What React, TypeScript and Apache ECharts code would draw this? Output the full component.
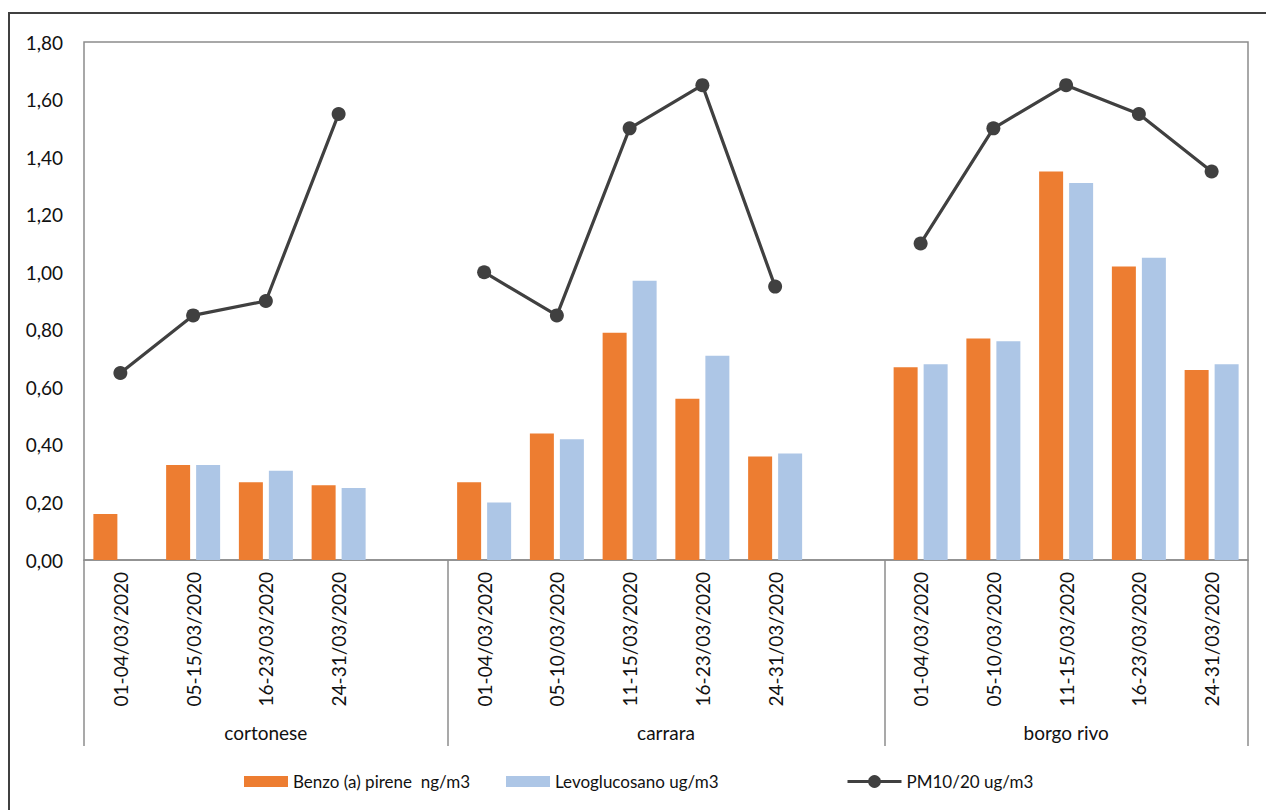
import React, { useEffect, useRef } from "react";
import * as echarts from "echarts";

const categories = [
  "01-04/03/2020", "05-15/03/2020", "16-23/03/2020", "24-31/03/2020", "",
  "01-04/03/2020", "05-10/03/2020", "11-15/03/2020", "16-23/03/2020", "24-31/03/2020", "",
  "01-04/03/2020", "05-10/03/2020", "11-15/03/2020", "16-23/03/2020", "24-31/03/2020",
];
const groups = ["cortonese", "carrara", "borgo rivo"];
const groupCenters = [2.5, 8, 13.5];
const groupBounds = [0, 5, 11, 16];

const benzo = [0.16, 0.33, 0.27, 0.26, null, 0.27, 0.44, 0.79, 0.56, 0.36, null, 0.67, 0.77, 1.35, 1.02, 0.66];
const levo = [null, 0.33, 0.31, 0.25, null, 0.2, 0.42, 0.97, 0.71, 0.37, null, 0.68, 0.76, 1.31, 1.05, 0.68];
const pm = [0.65, 0.85, 0.9, 1.55, null, 1.0, 0.85, 1.5, 1.65, 0.95, null, 1.1, 1.5, 1.65, 1.55, 1.35];

const seriesNames = ["Benzo (a) pirene  ng/m3", "Levoglucosano ug/m3", "PM10/20 ug/m3"];

const FONT = "Lato";
const FS = 19;
const TXT = "#111111";
const AX = "#8c8c8c";

export default function App() {
  const ref = useRef<HTMLDivElement>(null);
  useEffect(() => {
    if (!ref.current) return;
    const chart = echarts.init(ref.current, undefined, { renderer: "svg" });
    const legendBase = {
      top: 773,
      padding: 0,
      itemGap: 0,
      itemTextGap: 6,
      textStyle: { fontFamily: FONT, fontSize: 17, color: TXT },
      selectedMode: false,
    };
    chart.setOption({
      animation: false,
      backgroundColor: "#ffffff",
      textStyle: { fontFamily: FONT },
      grid: {
        left: 84,
        top: 42,
        width: 1164,
        height: 518,
        show: true,
        borderColor: AX,
        borderWidth: 1.5,
        backgroundColor: "transparent",
      },
      legend: [
        { ...legendBase, left: 244, itemWidth: 44, itemHeight: 11, data: [{ name: seriesNames[0], icon: "rect" }] },
        { ...legendBase, left: 506, itemWidth: 44, itemHeight: 11, data: [{ name: seriesNames[1], icon: "rect" }] },
        {
          ...legendBase,
          left: 846,
          itemWidth: 54,
          itemHeight: 16,
          lineStyle: { width: 3, color: "#404040" },
          data: [seriesNames[2]],
        },
      ],
      xAxis: [
        {
          type: "category",
          data: categories,
          boundaryGap: true,
          axisLine: { show: true, lineStyle: { color: AX, width: 1.5 } },
          axisTick: { show: false },
          axisLabel: {
            rotate: 90,
            interval: 0,
            margin: 12,
            fontFamily: FONT,
            fontSize: FS,
            color: TXT,
          },
          splitLine: { show: false },
        },
        {
          type: "value",
          min: 0,
          max: 16,
          position: "bottom",
          axisLine: { show: false },
          splitLine: { show: false },
          axisTick: {
            show: true,
            inside: false,
            length: 186,
            customValues: groupBounds,
            lineStyle: { color: AX, width: 1.5 },
          },
          axisLabel: {
            show: true,
            margin: 163,
            customValues: groupCenters,
            formatter: (v: number) => {
              const i = groupCenters.indexOf(v);
              return i >= 0 ? groups[i] : "";
            },
            fontFamily: FONT,
            fontSize: FS,
            color: TXT,
          },
        },
      ],
      yAxis: {
        type: "value",
        min: 0,
        max: 1.8,
        interval: 0.2,
        axisLine: { show: false },
        axisTick: { show: false },
        splitLine: { show: false },
        axisLabel: {
          margin: 21,
          fontFamily: FONT,
          fontSize: FS,
          color: TXT,
          formatter: (v: number) => v.toFixed(2).replace(".", ","),
        },
      },
      series: [
        {
          name: seriesNames[0],
          type: "bar",
          data: benzo,
          barWidth: 24,
          barGap: "25%",
          itemStyle: { color: "#ED7D31" },
        },
        {
          name: seriesNames[1],
          type: "bar",
          data: levo,
          barWidth: 24,
          barGap: "25%",
          itemStyle: { color: "#ADC6E6" },
        },
        {
          name: seriesNames[2],
          type: "line",
          data: pm,
          connectNulls: false,
          symbol: "circle",
          symbolSize: 14,
          lineStyle: { color: "#404040", width: 3.2 },
          itemStyle: { color: "#404040" },
          z: 5,
        },
      ],
      graphic: [
        {
          type: "rect",
          shape: { x: 9, y: 13, width: 1400, height: 1000 },
          style: { fill: "none", stroke: "#404040", lineWidth: 2 },
          silent: true,
        },
      ],
    });
    return () => chart.dispose();
  }, []);
  return (
    <div
      ref={ref}
      style={{ position: "absolute", left: 0, top: 0, width: 1266, height: 810 }}
    />
  );
}
